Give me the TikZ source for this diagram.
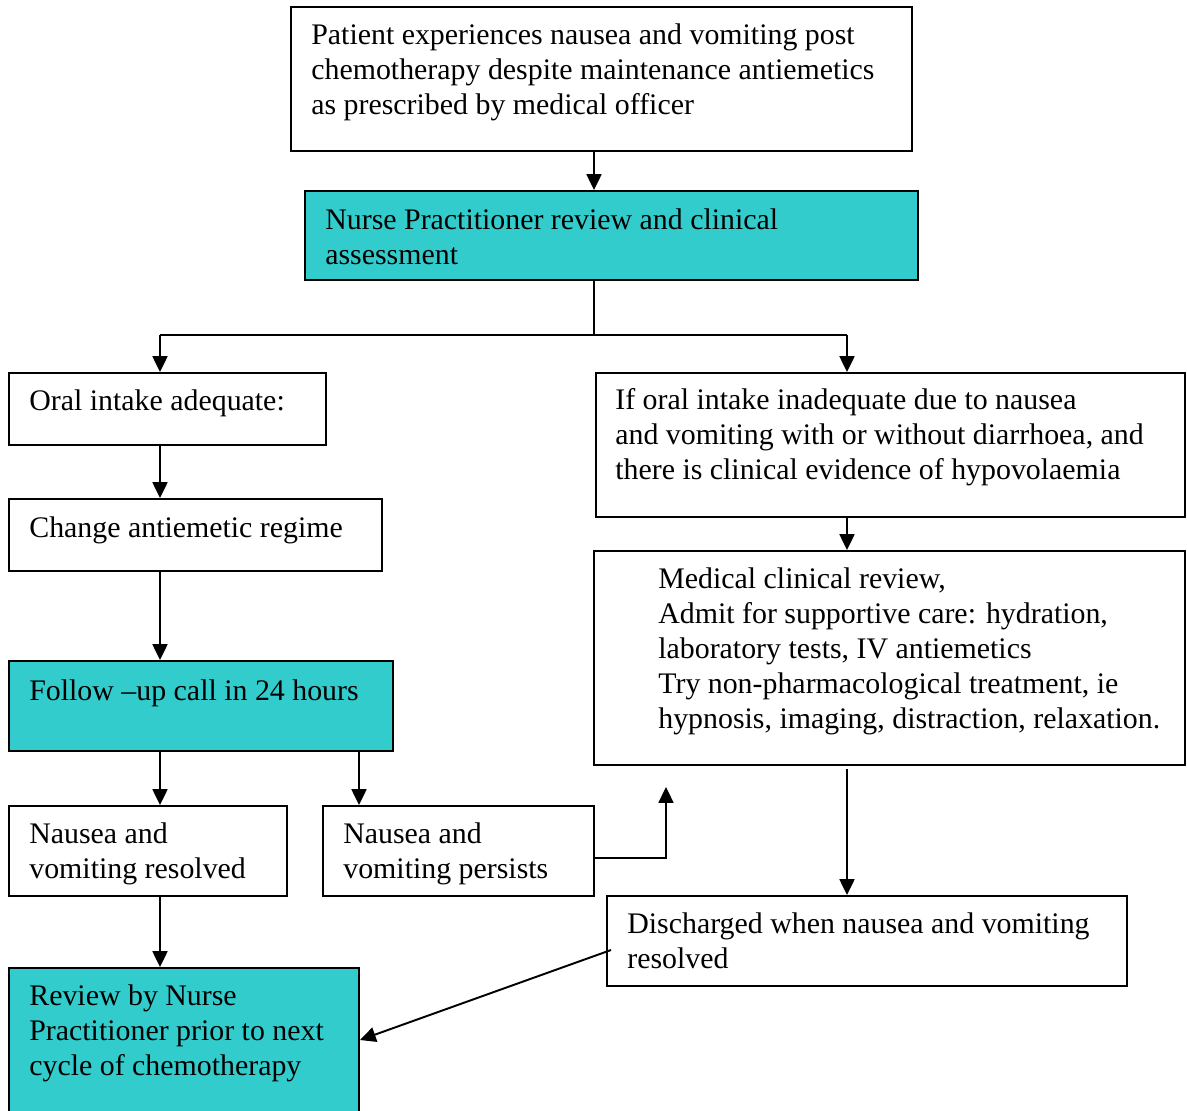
\documentclass[tikz,border=0pt]{standalone}
\usepackage{fontspec}
\setmainfont{Liberation Serif}
\usetikzlibrary{arrows.meta,fit}
\definecolor{npteal}{HTML}{33CCCC}
\tikzset{
  box/.style={draw, line width=1.1pt, inner sep=0pt},
  npbox/.style={box, fill=npteal},
  txt/.style={anchor=base west, align=left, inner sep=0pt, font=\fontsize{17}{19.9}\selectfont},
  arr/.style={-{Triangle[width=8.5pt,length=9pt]}, line width=1.1pt},
}
\begin{document}
\begin{tikzpicture}[x=0.02cm, y=-0.02cm]
  \useasboundingbox (0,0) rectangle (1187,1110);
  \clip (0,0) rectangle (1187,1110);

  % boxes
  \node[box, fit={(291,7) (912,151)}] (patient) {};
  \node[npbox, fit={(305,191) (918,280)}] (npreview) {};
  \node[box, fit={(9,373) (326,445)}] (oral) {};
  \node[box, fit={(596,373) (1185,517)}] (inadequate) {};
  \node[box, fit={(9,499) (382,571)}] (change) {};
  \node[box, fit={(594,551) (1185,765)}] (medical) {};
  \node[npbox, fit={(9,661) (393,751)}] (followup) {};
  \node[box, fit={(9,806) (287,896)}] (resolved) {};
  \node[box, fit={(323,806) (594,896)}] (persists) {};
  \node[box, fit={(607,896) (1127,986)}] (discharged) {};
  \node[npbox, fit={(9,968) (359,1112)}] (review) {};

  % texts (placed at the baseline of their last line)
  \node[txt] (patient-t) at (311,114) {Patient experiences nausea and vomiting post\\chemotherapy despite maintenance antiemetics\\as prescribed by medical officer};
  \node[txt] (npreview-t) at (325,264) {Nurse Practitioner review and clinical\\assessment};
  \node[txt] (oral-t) at (29,410) {Oral intake adequate:};
  \node[txt] (inadequate-t) at (615,479) {If oral intake inadequate due to nausea\\and vomiting with or without diarrhoea, and\\there is clinical evidence of hypovolaemia};
  \node[txt] (change-t) at (29,537) {Change antiemetic regime};
  \node[txt] (medical-t) at (658,728) {Medical clinical review,\\Admit for supportive care: hydration,\\laboratory tests, IV antiemetics\\Try non-pharmacological treatment, ie\\hypnosis, imaging, distraction, relaxation.};
  \node[txt] (followup-t) at (29,700) {Follow –up call in 24 hours};
  \node[txt] (resolved-t) at (29,878) {Nausea and\\vomiting resolved};
  \node[txt] (persists-t) at (343,878) {Nausea and\\vomiting persists};
  \node[txt] (discharged-t) at (627,968) {Discharged when nausea and vomiting\\resolved};
  \node[txt] (review-t) at (29,1075) {Review by Nurse\\Practitioner prior to next\\cycle of chemotherapy};

  % connectors
  \coordinate (split) at (594,335);
  \coordinate (lcol) at (160,335);
  \coordinate (rcol) at (847,335);
  \coordinate (pcol) at (359,0);
  \coordinate (loopy) at (0,858);
  \coordinate (backup) at (666,787);

  \draw[arr] (patient.south -| split) -- (npreview.north -| split);
  \draw[line width=1.1pt] (npreview.south -| split) -- (split);
  \draw[line width=1.1pt] (lcol) -- (rcol);
  \draw[arr] (lcol) -- (oral.north -| lcol);
  \draw[arr] (rcol) -- (inadequate.north -| rcol);
  \draw[arr] (oral.south -| lcol) -- (change.north -| lcol);
  \draw[arr] (change.south -| lcol) -- (followup.north -| lcol);
  \draw[arr] (followup.south -| lcol) -- (resolved.north -| lcol);
  \draw[arr] (followup.south -| pcol) -- (persists.north -| pcol);
  \draw[arr] (resolved.south -| lcol) -- (review.north -| lcol);
  \draw[arr] (inadequate.south -| rcol) -- (medical.north -| rcol);
  \draw[arr] ([yshift=-2pt]medical.south -| rcol) -- (discharged.north -| rcol);
  \draw[arr] (persists.east |- loopy) -| (backup);
  \draw[arr] ([shift={(5,9)}]discharged.west) -- (review.east);
\end{tikzpicture}
\end{document}
